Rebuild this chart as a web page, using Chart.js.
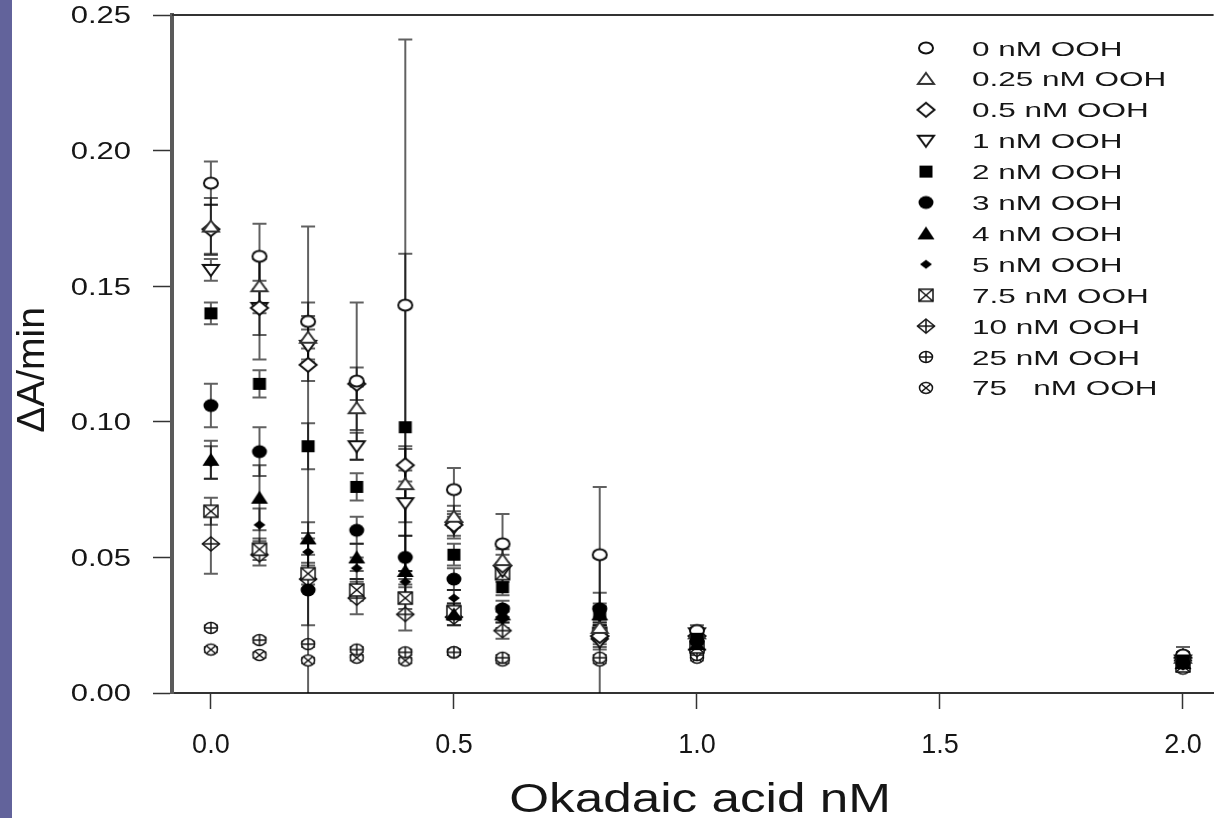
<!DOCTYPE html>
<html>
<head>
<meta charset="utf-8">
<script src="https://cdn.jsdelivr.net/npm/chart.js@4.4.1/dist/chart.umd.min.js"></script>
<style>
  html, body { margin: 0; padding: 0; background: #fff; }
  #wrap { position: relative; width: 1222px; height: 818px; overflow: hidden; }
  #band { position: absolute; left: 0; top: 0; width: 12px; height: 818px; background: #62639b; }
  #myChart { position: absolute; left: 0; top: 0; }
</style>
</head>
<body>
<div id="wrap">
  <canvas id="myChart" width="1222" height="818"></canvas>
  <div id="band"></div>
</div>
<script>
// okadaic acid concentrations (nM) on the x axis
const okadaic = [0, 0.1, 0.2, 0.3, 0.4, 0.5, 0.6, 0.8, 1.0, 2.0];

const seriesLabels = ['0 nM OOH', '0.25 nM OOH', '0.5 nM OOH', '1 nM OOH', '2 nM OOH', '3 nM OOH',
  '4 nM OOH', '5 nM OOH', '7.5 nM OOH', '10 nM OOH', '25 nM OOH', '75   nM OOH'];
const seriesMarkers = ['circle', 'triangle', 'diamond', 'triangleDown', 'square', 'dot',
  'triangleFill', 'smallDiamond', 'boxX', 'diamondPlus', 'circlePlus', 'circleX'];

// rate (dA/min), one row per OOH concentration
const rate0 =   [0.188, 0.161, 0.137, 0.115, 0.143, 0.075, 0.055, 0.051, 0.023, 0.014];
const rate025 = [0.172, 0.150, 0.131, 0.105, 0.077, 0.065, 0.049, 0.024, 0.022, 0.013];
const rate05 =  [0.171, 0.142, 0.121, 0.114, 0.084, 0.062, 0.047, 0.021, 0.021, 0.013];
const rate1 =   [0.156, 0.142, 0.128, 0.091, 0.070, 0.061, 0.045, 0.019, 0.022, 0.012];
const rate2 =   [0.140, 0.114, 0.091, 0.076, 0.098, 0.051, 0.039, 0.030, 0.020, 0.012];
const rate3 =   [0.106, 0.089, 0.038, 0.060, 0.050, 0.042, 0.031, 0.031, 0.019, 0.011];
const rate4 =   [0.086, 0.072, 0.057, 0.050, 0.045, 0.029, 0.029, 0.029, 0.018, 0.011];
const rate5 =   [0.085, 0.062, 0.052, 0.046, 0.041, 0.035, 0.027, 0.028, 0.019, 0.010];
const rate75 =  [0.067, 0.053, 0.044, 0.038, 0.035, 0.030, 0.044, 0.022, 0.017, 0.010];
const rate10 =  [0.055, 0.051, 0.042, 0.035, 0.029, 0.028, 0.023, 0.020, 0.016, 0.012];
const rate25 =  [0.024, 0.0195, 0.018, 0.016, 0.015, 0.015, 0.013, 0.013, 0.014, 0.011];
const rate750 = [0.016, 0.014, 0.012, 0.013, 0.012, 0.015, 0.012, 0.012, 0.013, 0.009];

// standard deviations, same layout
const sd0 =   [0.008, 0.012, 0.007, 0.029, 0.098, 0.008, 0.011, 0.025, 0.002, 0.003];
const sd025 = [0.0105, 0.010, 0.008, 0.008, 0.014, 0.004, 0.004, 0.026, 0.002, 0.002];
const sd05 =  [0.009, 0.010, 0.006, 0.006, 0.006, 0.004, 0.004, 0.003, 0.002, 0.002];
const sd1 =   [0.004, 0.019, 0.006, 0.005, 0.012, 0.004, 0.003, 0.003, 0.002, 0.002];
const sd2 =   [0.004, 0.005, 0.0085, 0.005, 0.064, 0.004, 0.003, 0.003, 0.002, 0.002];
const sd3 =   [0.008, 0.009, 0.134, 0.005, 0.008, 0.004, 0.003, 0.006, 0.002, 0.002];
const sd4 =   [0.007, 0.012, 0.006, 0.005, 0.005, 0.004, 0.003, 0.003, 0.002, 0.002];
const sd5 =   [0.006, 0.006, 0.005, 0.004, 0.004, 0.003, 0.003, 0.003, 0.002, 0.002];
const sd75 =  [0.005, 0.004, 0.004, 0.004, 0.004, 0.003, 0.003, 0.003, 0.002, 0.002];
const sd10 =  [0.011, 0.004, 0.017, 0.006, 0.006, 0.003, 0.003, 0.003, 0.002, 0.002];
const sd25 =  [0.001, 0.001, 0.001, 0.001, 0.001, 0.001, 0.001, 0.001, 0.001, 0.001];
const sd750 = [0.001, 0.001, 0.001, 0.001, 0.001, 0.001, 0.001, 0.001, 0.001, 0.001];

const rates = [rate0, rate025, rate05, rate1, rate2, rate3, rate4, rate5, rate75, rate10, rate25, rate750];
const sds = [sd0, sd025, sd05, sd1, sd2, sd3, sd4, sd5, sd75, sd10, sd25, sd750];

const xTicks = [0, 0.5, 1.0, 1.5, 2.0];
const yTicks = [0, 0.05, 0.10, 0.15, 0.20, 0.25];

const FONT = '"Liberation Sans", Arial, sans-serif';
const INK = '#161616';
const filledKinds = ['square', 'dot', 'triangleFill', 'smallDiamond'];

// little canvases used as point styles (chart and legend)
function marker(kind) {
  const c = document.createElement('canvas');
  c.width = 22; c.height = 18;
  const g = c.getContext('2d');
  g.translate(11, 9);
  g.lineWidth = 2;
  g.strokeStyle = '#111';
  g.fillStyle = '#fff';
  const poly = (pts) => {
    g.beginPath();
    pts.forEach((p, i) => i ? g.lineTo(p[0], p[1]) : g.moveTo(p[0], p[1]));
    g.closePath();
  };
  const line = (x1, y1, x2, y2) => { g.beginPath(); g.moveTo(x1, y1); g.lineTo(x2, y2); g.stroke(); };
  switch (kind) {
    case 'circle':
      g.beginPath(); g.ellipse(0, 0, 7, 5.5, 0, 0, Math.PI * 2); g.fill(); g.stroke(); break;
    case 'triangle':
      g.strokeStyle = '#333';
      poly([[0, -6], [8, 5], [-8, 5]]); g.fill(); g.stroke(); break;
    case 'diamond':
      poly([[0, -7], [8.5, 0], [0, 7], [-8.5, 0]]); g.fill(); g.stroke(); break;
    case 'triangleDown':
      poly([[0, 6], [8, -5], [-8, -5]]); g.fill(); g.stroke(); break;
    case 'square':
      g.fillStyle = '#000'; g.fillRect(-6.5, -6, 13, 12); break;
    case 'dot':
      g.fillStyle = '#000'; g.beginPath(); g.ellipse(0, 0, 7.5, 6.5, 0, 0, Math.PI * 2); g.fill(); break;
    case 'triangleFill':
      g.fillStyle = '#000'; poly([[0, -7], [8.5, 6], [-8.5, 6]]); g.fill(); break;
    case 'smallDiamond':
      g.fillStyle = '#000'; poly([[0, -4.5], [6, 0], [0, 4.5], [-6, 0]]); g.fill(); break;
    case 'boxX':
      g.lineWidth = 1.5;
      g.fillRect(-7, -6, 14, 12); g.strokeRect(-7, -6, 14, 12);
      line(-7, -6, 7, 6); line(-7, 6, 7, -6); break;
    case 'diamondPlus':
      g.lineWidth = 1.5;
      poly([[0, -7], [8.5, 0], [0, 7], [-8.5, 0]]); g.fill(); g.stroke();
      line(0, -7, 0, 7); line(-8.5, 0, 8.5, 0); break;
    case 'circlePlus':
      g.lineWidth = 1.5;
      g.beginPath(); g.ellipse(0, 0, 6.5, 5.5, 0, 0, Math.PI * 2); g.fill(); g.stroke();
      line(0, -5.5, 0, 5.5); line(-6.5, 0, 6.5, 0); break;
    case 'circleX':
      g.lineWidth = 1.5;
      g.beginPath(); g.ellipse(0, 0, 6.5, 5.5, 0, 0, Math.PI * 2); g.fill(); g.stroke();
      line(-4.5, -3.8, 4.5, 3.8); line(-4.5, 3.8, 4.5, -3.8); break;
  }
  return c;
}

const markerImages = seriesMarkers.map(marker);

// solid symbols sit on top of the open ones
const datasets = seriesLabels.map((label, s) => ({
  label,
  data: okadaic.map((x, i) => ({ x, y: rates[s][i] })),
  errors: sds[s],
  pointStyle: markerImages[s],
  order: filledKinds.includes(seriesMarkers[s]) ? 1 : 2,
  showLine: false
}));

// horizontally stretched text, the figure's lettering is wide
function wideText(ctx, text, x, y, size, sx, align) {
  ctx.save();
  ctx.font = size + 'px ' + FONT;
  ctx.fillStyle = INK;
  ctx.textBaseline = 'alphabetic';
  const w = ctx.measureText(text).width * sx;
  let left = x;
  if (align === 'right') left = x - w;
  else if (align === 'center') left = x - w / 2;
  ctx.translate(left, y);
  ctx.scale(sx, 1);
  ctx.textAlign = 'left';
  ctx.fillText(text, 0, 0);
  ctx.restore();
}

const errorBars = {
  id: 'errorBars',
  beforeDatasetsDraw(chart) {
    const { ctx, chartArea, scales: { x, y } } = chart;
    ctx.save();
    ctx.beginPath();
    ctx.rect(chartArea.left, chartArea.top, chartArea.width, chartArea.height);
    ctx.clip();
    ctx.strokeStyle = 'rgba(0,0,0,0.62)';
    ctx.lineWidth = 2;
    chart.data.datasets.forEach(ds => {
      ds.data.forEach((p, i) => {
        const e = ds.errors[i];
        const px = x.getPixelForValue(p.x);
        const top = y.getPixelForValue(p.y + e);
        const bot = y.getPixelForValue(p.y - e);
        ctx.beginPath();
        ctx.moveTo(px, top); ctx.lineTo(px, bot);
        ctx.moveTo(px - 7, top); ctx.lineTo(px + 7, top);
        ctx.moveTo(px - 7, bot); ctx.lineTo(px + 7, bot);
        ctx.stroke();
      });
    });
    ctx.restore();
  }
};

const frameAndText = {
  id: 'frameAndText',
  afterDraw(chart) {
    const { ctx, chartArea, scales: { y } } = chart;
    // top frame line
    ctx.save();
    ctx.strokeStyle = '#333';
    ctx.lineWidth = 2;
    ctx.beginPath();
    ctx.moveTo(chartArea.left, chartArea.top);
    ctx.lineTo(chartArea.right, chartArea.top);
    ctx.stroke();
    ctx.restore();

    // y tick labels
    y.ticks.forEach(t => {
      const py = y.getPixelForValue(t.value);
      wideText(ctx, t.value.toFixed(2), 131, py + 8.4, 23.5, 1.32, 'right');
    });

    // y title
    ctx.save();
    ctx.translate(44, 370);
    ctx.rotate(-Math.PI / 2);
    ctx.font = '39px ' + FONT;
    ctx.fillStyle = INK;
    ctx.textAlign = 'center';
    ctx.fillText('ΔA/min', 0, 0);
    ctx.restore();

    // x title
    wideText(ctx, 'Okadaic acid nM', 700, 812, 41, 1.25, 'center');

    // legend
    seriesLabels.forEach((label, s) => {
      const rowY = 48 + s * 30.9;
      const img = markerImages[s];
      ctx.drawImage(img, 926 - img.width / 2, rowY - img.height / 2);
      wideText(ctx, label, 972, rowY + 7.5, 21, 1.5, 'left');
    });
  }
};

const chart = new Chart('myChart', {
  type: 'scatter',
  data: { datasets },
  options: {
    responsive: false,
    animation: false,
    layout: { padding: { top: 15, right: 0, left: 0, bottom: 0 } },
    elements: { point: { radius: 7, hoverRadius: 7 } },
    plugins: {
      legend: { display: false },
      tooltip: { enabled: false }
    },
    scales: {
      x: {
        type: 'linear',
        min: -0.08,
        max: 2.063,
        afterBuildTicks: s => { s.ticks = xTicks.map(v => ({ value: v })); },
        afterFit: s => { s.height = 125; },
        grid: { drawOnChartArea: false, drawTicks: true, tickLength: 16, tickWidth: 1.5, tickColor: '#333' },
        border: { display: true, color: '#333', width: 2 },
        ticks: {
          color: INK,
          padding: 20,
          maxRotation: 0,
          font: { family: FONT, size: 27 },
          callback: v => Number(v).toFixed(1)
        }
      },
      y: {
        type: 'linear',
        min: 0,
        max: 0.25,
        afterBuildTicks: s => { s.ticks = yTicks.map(v => ({ value: v })); },
        afterFit: s => { s.width = 172; },
        grid: { drawOnChartArea: false, drawTicks: true, tickLength: 19, tickWidth: 1.5, tickColor: '#333' },
        border: { display: true, color: '#5a5a5a', width: 4 },
        ticks: { display: false }
      }
    }
  },
  plugins: [errorBars, frameAndText]
});
</script>
</body>
</html>
